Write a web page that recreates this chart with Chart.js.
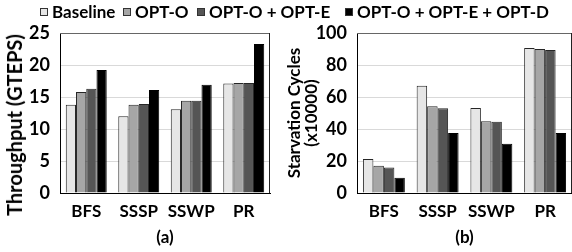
<!DOCTYPE html>
<html>
<head>
<meta charset="utf-8">
<script src="https://cdn.jsdelivr.net/npm/chart.js@4/dist/chart.umd.min.js"></script>
<style>
  html, body { margin: 0; padding: 0; background: #fff; }
  #wrap { position: relative; width: 572px; height: 252px; overflow: hidden; font-family: Lato, "Open Sans", sans-serif; }
  #c1 { position: absolute; left: 0; top: 0; }
  #c2 { position: absolute; left: 286px; top: 0; }
  .item { position: absolute; top: 2px; display: flex; align-items: center; font-weight: bold; font-size: 17px; color: #000; white-space: nowrap; line-height: 20px; }
  .sw { width: 8px; height: 8px; border: 1px solid #333; margin-right: 4px; box-sizing: border-box; }
  #ytitle1 { position: absolute; left: 14px; top: 125px; transform: translate(-50%, -50%) rotate(-90deg); font-weight: bold; font-size: 20px; color: #000; white-space: nowrap; line-height: 22px; }
</style>
</head>
<body>
<div id="wrap">
  <canvas id="c1" width="286" height="252"></canvas>
  <canvas id="c2" width="286" height="252"></canvas>
  <div id="ytitle1"></div>
</div>
<script>
const categories = ['BFS', 'SSSP', 'SSWP', 'PR'];
const seriesNames = ['Baseline', 'OPT-O', 'OPT-O + OPT-E', 'OPT-O + OPT-E + OPT-D'];
const seriesColors = ['#E6E6E6', '#A6A6A6', '#555555', '#000000'];

const thrBaseline = [13.8, 12.0, 13.1, 17.1];
const thrOptO     = [15.8, 13.8, 14.4, 17.2];
const thrOptE     = [16.3, 13.9, 14.4, 17.2];
const thrOptD     = [19.2, 16.1, 16.9, 23.3];

const stvBaseline = [21.2, 67.1, 53.1, 90.6];
const stvOptO     = [17.1, 54.2, 44.8, 90.0];
const stvOptE     = [16.0, 52.9, 44.6, 89.3];
const stvOptD     = [9.6, 37.5, 30.8, 37.5];

const leftTicks = [0, 5, 10, 15, 20, 25];
const rightTicks = [0, 20, 40, 60, 80, 100];

const leftYTitle = 'Throughput (GTEPS)';
const rightYTitle = ['Starvation Cycles', '(x10000)'];

// HTML legend, items placed at the reference positions
const legendX = [40, 123, 197, 345];
const wrap = document.getElementById('wrap');
seriesNames.forEach((n, i) => {
  const it = document.createElement('div'); it.className = 'item'; it.style.left = legendX[i] + 'px';
  const sw = document.createElement('div'); sw.className = 'sw'; sw.style.background = seriesColors[i];
  const tx = document.createElement('span'); tx.textContent = n;
  it.appendChild(sw); it.appendChild(tx); wrap.appendChild(it);
});
document.getElementById('ytitle1').textContent = leftYTitle;

const FONT = 'Lato, "Open Sans", sans-serif';

const framePlugin = {
  id: 'frame',
  afterDatasetsDraw(chart) {
    const a = chart.chartArea, ctx = chart.ctx;
    ctx.save();
    ctx.lineWidth = 1;
    ctx.strokeStyle = '#666666';
    ctx.beginPath();
    ctx.moveTo(a.left, Math.round(a.top) + 0.5);
    ctx.lineTo(a.right, Math.round(a.top) + 0.5);
    ctx.stroke();
    ctx.strokeStyle = '#222222';
    ctx.beginPath();
    ctx.moveTo(Math.round(a.right) - 0.5, a.top);
    ctx.lineTo(Math.round(a.right) - 0.5, a.bottom);
    ctx.stroke();
    ctx.restore();
  }
};

function makeDatasets(arrs) {
  return arrs.map((d, i) => ({
    label: seriesNames[i],
    data: d,
    backgroundColor: seriesColors[i],
    borderColor: i === 3 ? '#000000' : '#262626',
    borderWidth: 1,
    borderSkipped: 'bottom',
    categoryPercentage: 0.78,
    barPercentage: 1.0
  }));
}

function makeChart(id, arrs, ticks, yTitle, xTitle, yWidth, padRight) {
  return new Chart(document.getElementById(id), {
    type: 'bar',
    data: { labels: categories, datasets: makeDatasets(arrs) },
    plugins: [framePlugin],
    options: {
      responsive: false,
      devicePixelRatio: 1,
      animation: false,
      layout: { padding: { top: 33, right: padRight, left: 0, bottom: 0 } },
      plugins: { legend: { display: false }, tooltip: { enabled: false } },
      scales: {
        x: {
          grid: { display: false, drawTicks: false },
          border: { display: true, color: '#000', width: 1 },
          ticks: { color: '#000', autoSkip: false, maxRotation: 0, minRotation: 0, font: { family: FONT, size: 17, weight: 'bold' }, padding: 8 },
          title: { display: true, text: xTitle, color: '#000', font: { family: FONT, size: 17, weight: 'bold' }, padding: { top: 0, bottom: 4 } },
          afterFit(s) { s.height = 59; }
        },
        y: {
          min: ticks[0], max: ticks[ticks.length - 1],
          afterBuildTicks(s) { s.ticks = ticks.map(v => ({ value: v })); },
          grid: { color: '#D9D9D9', lineWidth: 1, drawTicks: false },
          border: { display: true, color: '#000', width: 1 },
          ticks: { color: '#000', font: { family: FONT, size: 18, weight: 'bold' }, padding: 10 },
          title: { display: !!yTitle, text: yTitle || '', color: '#000', font: { family: FONT, size: 17, weight: 'bold', lineHeight: 1.0 }, padding: { top: 0, bottom: 0 } },
          afterFit(s) { s.width = yWidth; }
        }
      }
    }
  });
}

makeChart('c1', [thrBaseline, thrOptO, thrOptE, thrOptD], leftTicks, null, '(a)', 60, 16);
makeChart('c2', [stvBaseline, stvOptO, stvOptE, stvOptD], rightTicks, rightYTitle, '(b)', 71, 0);
</script>
</body>
</html>
